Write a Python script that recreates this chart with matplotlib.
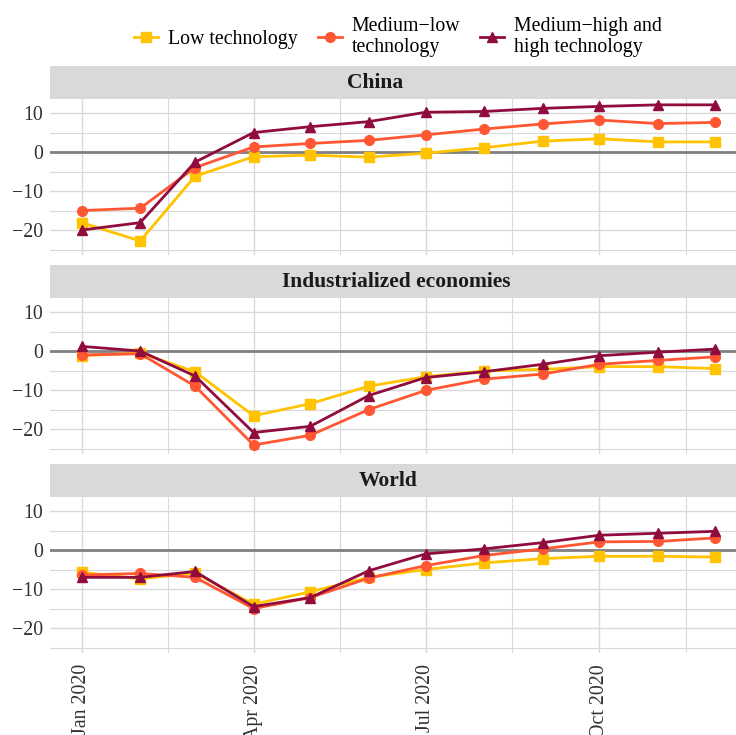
import numpy as np
import matplotlib.pyplot as plt
import matplotlib.dates as mdates
import pandas as pd
from matplotlib.lines import Line2D

plt.rcParams['font.family'] = ['Liberation Serif', 'DejaVu Serif']
plt.rcParams['axes.unicode_minus'] = True

# Data, monthly Jan-Dec 2020
months = pd.date_range('2020-01-01', '2020-12-01', freq='MS')
regions = ['China', 'Industrialized economies', 'World']
series_names = ['Low technology', 'Medium\u2212low\ntechnology', 'Medium\u2212high and\nhigh technology']

china_low = [-18.1, -22.8, -6.2, -1.2, -0.8, -1.3, -0.3, 1.1, 2.8, 3.4, 2.6, 2.6]
china_medlow = [-15.0, -14.4, -4.0, 1.3, 2.2, 3.0, 4.4, 5.9, 7.2, 8.2, 7.3, 7.6]
china_medhigh = [-20.0, -18.1, -2.6, 5.0, 6.5, 7.8, 10.2, 10.4, 11.2, 11.7, 12.1, 12.1]

ind_low = [-1.2, -0.5, -5.3, -16.6, -13.5, -9.0, -6.6, -5.1, -4.7, -4.0, -4.0, -4.5]
ind_medlow = [-1.0, -0.7, -9.0, -24.1, -21.6, -15.0, -10.1, -7.2, -5.9, -3.4, -2.4, -1.5]
ind_medhigh = [1.2, 0.0, -6.4, -20.9, -19.3, -11.4, -6.8, -5.3, -3.4, -1.2, -0.3, 0.5]

world_low = [-5.7, -7.4, -5.9, -13.9, -10.7, -7.0, -5.0, -3.3, -2.2, -1.6, -1.6, -1.8]
world_medlow = [-6.4, -6.0, -7.0, -15.0, -12.2, -7.2, -4.0, -1.4, 0.3, 2.1, 2.2, 3.1]
world_medhigh = [-7.0, -7.0, -5.5, -14.5, -12.2, -5.3, -1.0, 0.3, 1.9, 3.8, 4.3, 4.8]

data = {
    'China': [china_low, china_medlow, china_medhigh],
    'Industrialized economies': [ind_low, ind_medlow, ind_medhigh],
    'World': [world_low, world_medlow, world_medhigh],
}

colors = ['#FFC300', '#FF5733', '#900C3F']
markers = ['s', 'o', '^']

x = mdates.date2num(months)
span = x[-1] - x[0]
xmin, xmax = x[0] - 0.05 * span, x[-1] + 0.05 * span
major = mdates.date2num(pd.to_datetime(['2020-01-01', '2020-04-01', '2020-07-01', '2020-10-01']))
minor = np.concatenate([(major[:-1] + major[1:]) / 2, [major[-1] + (major[-1] - major[-2]) / 2]])

fig = plt.figure(figsize=(7.36, 7.35), dpi=100)
W, H = 736, 735
left_px = 50
width_px = (xmax - xmin) * (715 - 82) / span

panel_tops = [99, 298, 497]
strip_centers = [375, 396, 388]  # px, as in the reference
panel_h = 156
strip_h = 33

for i, reg in enumerate(regions):
    top = panel_tops[i]
    ax = fig.add_axes([left_px / W, 1 - (top + panel_h) / H, width_px / W, panel_h / H])
    # strip
    sax = fig.add_axes([left_px / W, 1 - top / H, width_px / W, strip_h / H])
    sax.set_facecolor('#D9D9D9')
    sax.set_xticks([]); sax.set_yticks([])
    for s in sax.spines.values():
        s.set_visible(False)
    sax.text((strip_centers[i] - left_px) / width_px, 0.47, reg, transform=sax.transAxes,
             ha='center', va='center', fontsize=15.5, fontweight='bold', color='#1a1a1a')

    ax.set_xlim(xmin, xmax)
    ax.set_ylim(-26.4, 13.6)
    ax.set_yticks([-20, -10, 0, 10])
    ax.set_yticks([-25, -15, -5, 5], minor=True)
    ax.set_xticks(major)
    ax.set_xticks(minor, minor=True)
    ax.grid(True, which='major', color='#D9D9D9', linewidth=1.0)
    ax.grid(True, which='minor', color='#D9D9D9', linewidth=0.8)
    ax.set_axisbelow(True)
    ax.axhline(0, color='#808080', linewidth=2, zorder=1.5)
    for s in ax.spines.values():
        s.set_visible(False)
    ax.tick_params(axis='y', which='both', length=0, labelsize=14.3, colors='#333333', pad=5)
    ax.tick_params(axis='x', which='both', length=0, labelsize=14.3, colors='#333333', pad=8)
    ax.yaxis.set_major_formatter(plt.FuncFormatter(lambda v, p: f'{int(v)}'.replace('-', '\u2212')))

    for vals, c, m in zip(data[reg], colors, markers):
        ax.plot(x, vals, color=c, marker=m, markersize=7, linewidth=2, zorder=3)

    if i < 2:
        ax.set_xticklabels([])
    else:
        ax.set_xticklabels(['Jan 2020', 'Apr 2020', 'Jul 2020', 'Oct 2020'],
                           rotation=90, ha='center', va='top')

handles = [Line2D([0], [0], color=c, marker=m, markersize=7, linewidth=2)
           for c, m in zip(colors, markers)]
fig.legend(handles, series_names, loc='center', bbox_to_anchor=(398 / W, 1 - 37 / H),
           ncol=3, frameon=False, fontsize=14.3, handlelength=1.2, handletextpad=0.5,
           columnspacing=1.0, labelspacing=0.0)

fig.savefig('out.png', dpi=100)
